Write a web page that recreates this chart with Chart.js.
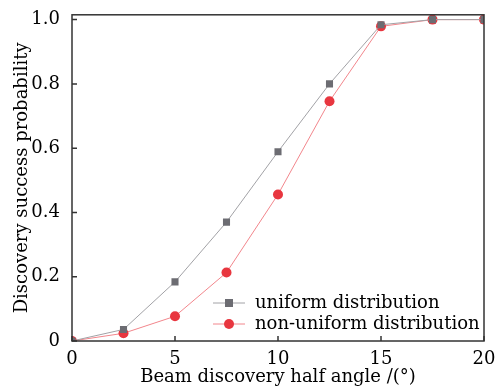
<!DOCTYPE html>
<html>
<head>
<meta charset="utf-8">
<script src="https://cdn.jsdelivr.net/npm/chart.js@4/dist/chart.umd.min.js"></script>
<style>
  html, body { margin: 0; padding: 0; background: #fff; }
  #wrap { width: 500px; height: 388px; }
</style>
</head>
<body>
<div id="wrap"><canvas id="beam"></canvas></div>
<script>
var halfAngles = [0, 2.5, 5, 7.5, 10, 12.5, 15, 17.5, 20];
var uniformProb = [0, 0.036, 0.184, 0.37, 0.589, 0.80, 0.984, 1.0, 1.0];
var nonUniformProb = [0, 0.024, 0.077, 0.213, 0.456, 0.746, 0.979, 1.0, 1.0];
var xTicks = [0, 5, 10, 15, 20];
var yTicks = [0, 0.2, 0.4, 0.6, 0.8, 1.0];
var seriesNames = ['uniform distribution', 'non-uniform distribution'];

var FONT = '"DejaVu Serif", serif';

function toPoints(ys) {
    return halfAngles.map(function (x, i) { return { x: x, y: ys[i] }; });
}

// box round the plot + inward tick marks
var framePlugin = {
    id: 'frame',
    afterDraw: function (chart) {
        var ctx = chart.ctx, a = chart.chartArea;
        var xs = chart.scales.x, ys = chart.scales.y;
        ctx.save();
        ctx.strokeStyle = '#333';
        ctx.lineWidth = 1.5;
        ctx.strokeRect(a.left, a.top, a.right - a.left, a.bottom - a.top);
        ctx.beginPath();
        xTicks.forEach(function (v) {
            var px = xs.getPixelForValue(v);
            ctx.moveTo(px, a.bottom);
            ctx.lineTo(px, a.bottom - 5);
        });
        yTicks.forEach(function (v) {
            var py = ys.getPixelForValue(v);
            ctx.moveTo(a.left, py);
            ctx.lineTo(a.left + 5, py);
        });
        ctx.stroke();
        ctx.restore();
    }
};

// legend drawn inside the plot, lower right
var innerLegend = {
    id: 'innerLegend',
    afterDraw: function (chart) {
        var ctx = chart.ctx;
        var x0 = 213, x1 = 245, tx = 255;
        var rows = [303, 324];
        ctx.save();
        chart.data.datasets.forEach(function (ds, i) {
            var y = rows[i];
            ctx.strokeStyle = ds.borderColor;
            ctx.lineWidth = 1;
            ctx.beginPath();
            ctx.moveTo(x0, y);
            ctx.lineTo(x1, y);
            ctx.stroke();
            ctx.fillStyle = ds.pointBackgroundColor;
            var mx = (x0 + x1) / 2;
            if (ds.pointStyle === 'rect') {
                ctx.fillRect(mx - 4, y - 4, 8, 8);
            } else {
                ctx.beginPath();
                ctx.arc(mx, y, 5, 0, Math.PI * 2);
                ctx.fill();
            }
            ctx.fillStyle = '#000';
            ctx.font = '18px ' + FONT;
            ctx.textBaseline = 'middle';
            ctx.textAlign = 'left';
            ctx.fillText(ds.label, tx, y);
        });
        ctx.restore();
    }
};

var ctx = document.getElementById('beam').getContext('2d');
var chart = new Chart(ctx, {
    type: 'line',
    data: {
        datasets: [
            {
                label: seriesNames[0],
                data: toPoints(uniformProb),
                borderColor: '#a2a2a6',
                borderWidth: 1,
                pointStyle: 'rect',
                pointRadius: 5,
                pointBackgroundColor: '#6c6c72',
                pointBorderColor: '#6c6c72',
                pointBorderWidth: 0
            },
            {
                label: seriesNames[1],
                data: toPoints(nonUniformProb),
                borderColor: '#f2868c',
                borderWidth: 1,
                pointStyle: 'circle',
                pointRadius: 5,
                pointBackgroundColor: '#e8363f',
                pointBorderColor: '#e8363f',
                pointBorderWidth: 0
            }
        ]
    },
    options: {
        responsive: true,
        maintainAspectRatio: false,
        animation: false,
        layout: { padding: { top: 13, right: 16, left: 12, bottom: 0 } },
        plugins: {
            legend: { display: false },
            tooltip: { enabled: false }
        },
        scales: {
            x: {
                type: 'linear',
                min: 0,
                max: 20,
                grid: { display: false },
                border: { display: false },
                afterBuildTicks: function (s) { s.ticks = xTicks.map(function (v) { return { value: v }; }); },
                afterFit: function (s) { s.height = 47; },
                ticks: {
                    color: '#000',
                    font: { family: FONT, size: 18 },
                    padding: 0,
                    maxRotation: 0
                },
                title: {
                    display: true,
                    text: 'Beam discovery half angle /(°)',
                    color: '#000',
                    font: { family: FONT, size: 18 },
                    padding: { top: 0, bottom: 0 }
                }
            },
            y: {
                min: 0,
                max: 1.015,
                grid: { display: false },
                border: { display: false },
                afterBuildTicks: function (s) { s.ticks = yTicks.map(function (v) { return { value: v }; }); },
                afterFit: function (s) { s.width = 60; },
                ticks: {
                    color: '#000',
                    font: { family: FONT, size: 18 },
                    padding: 4,
                    callback: function (v) { return v === 0 ? '0' : v.toFixed(1); }
                },
                title: {
                    display: true,
                    text: 'Discovery success probability',
                    color: '#000',
                    font: { family: FONT, size: 18 },
                    padding: { top: 0, bottom: 4 }
                }
            }
        }
    },
    plugins: [framePlugin, innerLegend]
});
</script>
</body>
</html>
